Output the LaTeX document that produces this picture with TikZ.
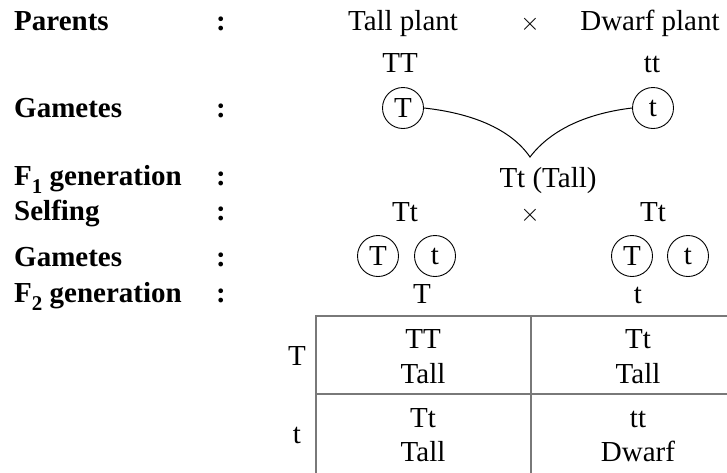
\documentclass[tikz,border=0pt]{standalone}
\usepackage{fontspec}
\setmainfont{Liberation Serif}
\newcommand{\gensub}[1]{\raisebox{-0.28em}{\fontsize{21}{21}\selectfont #1}}
\begin{document}
\begin{tikzpicture}[x=1pt,y=-1pt,
  txt/.style={inner sep=0pt,anchor=base,font=\fontsize{29}{34}\selectfont},
  lbl/.style={txt,anchor=base west,font=\fontsize{29}{34}\selectfont\bfseries},
  gam/.style={circle,draw,line width=0.9pt,minimum size=41pt,inner sep=0pt,
              font=\fontsize{29}{34}\selectfont},
  grid/.style={draw=gray!95!black,line width=2.3pt},
  link/.style={line width=1pt}]
\useasboundingbox (0,0) rectangle (727,472);
\clip (0,0) rectangle (727,472);

% row labels and colons
\node[lbl] (lParents) at (14,30) {Parents};
\node[lbl] (lGam1) at (14,117) {Gametes};
\node[lbl] (lF1) at (14,185) {F\gensub{1} generation};
\node[lbl] (lSelf) at (14,220) {Selfing};
\node[lbl] (lGam2) at (14,266) {Gametes};
\node[lbl] (lF2) at (14,302) {F\gensub{2} generation};
\foreach \y/\n in {30/1,117/2,185/3,220/4,266/5,302/6}
  \node[txt,font=\fontsize{29}{34}\selectfont\bfseries] (col\n) at (221,\y) {:};

% parental cross
\node[txt] (tallP) at (403,30) {Tall plant};
\node[txt] (cross1) at (530,30) {$\times$};
\node[txt] (dwarfP) at (650,30) {Dwarf plant};
\node[txt] (gTT) at (400,72) {TT};
\node[txt] (gtt) at (652,72) {tt};

% parental gametes and fusion
\node[gam] (pT) at (403,108) {T};
\node[gam] (pt) at (653,108) {t};
\coordinate (cusp) at (530,157);
\draw[link] (pT.east) .. controls (470,113) and (510,128) .. (cusp)
            .. controls (552,128) and (590,113) .. (pt.west);
\node[txt] (f1) at (548,187) {Tt (Tall)};

% selfing
\node[txt] (sL) at (405,221) {Tt};
\node[txt] (cross2) at (530,221) {$\times$};
\node[txt] (sR) at (653,221) {Tt};

% F1 gametes
\node[gam] (aT) at (378,256) {T};
\node[gam] (at) at (435,256) {t};
\node[gam] (bT) at (632,256) {T};
\node[gam] (bt) at (688,256) {t};

% F2 column heads
\node[txt] (hT) at (422,303) {T};
\node[txt] (ht) at (638,303) {t};

% Punnett square
\coordinate (tl) at (316,316);
\coordinate (tr) at (740,316);
\coordinate (ml) at (316,394);
\coordinate (mr) at (740,394);
\coordinate (bl) at (316,490);
\coordinate (mt) at (531,316);
\coordinate (mb) at (531,490);
\draw[grid] (bl) -- (tl) -- (tr);
\draw[grid] (ml) -- (mr);
\draw[grid] (mt) -- (mb);

\node[txt] (rT) at (297,365) {T};
\node[txt] (rt) at (297,443) {t};

\node[txt] (c11a) at (423,348) {TT};
\node[txt] (c11b) at (423,383) {Tall};
\node[txt] (c12a) at (638,348) {Tt};
\node[txt] (c12b) at (638,383) {Tall};
\node[txt] (c21a) at (423,427) {Tt};
\node[txt] (c21b) at (423,461) {Tall};
\node[txt] (c22a) at (638,427) {tt};
\node[txt] (c22b) at (638,461) {Dwarf};
\end{tikzpicture}
\end{document}
